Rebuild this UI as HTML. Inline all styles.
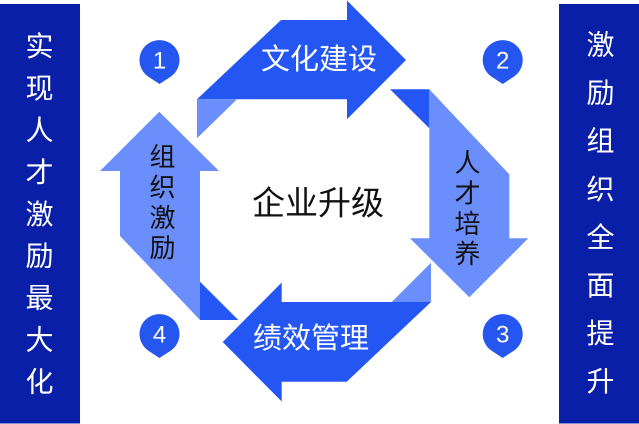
<!DOCTYPE html>
<html>
<head>
<meta charset="utf-8">
<style>
html,body{margin:0;padding:0;background:#fff;}
body{width:639px;height:424px;overflow:hidden;}
svg{display:block;}
text{font-family:"Liberation Sans","Noto Sans CJK SC",sans-serif;}
</style>
</head>
<body>
<svg width="639" height="424" viewBox="0 0 639 424" xmlns="http://www.w3.org/2000/svg">
  <rect x="0" y="0" width="639" height="424" fill="#ffffff"/>
  <!-- side panels -->
  <rect x="0" y="4" width="80" height="419.5" fill="#0a1fa7"/>
  <rect x="559" y="4" width="80" height="419.5" fill="#0a1fa7"/>

  <g fill="#ffffff" font-size="28" text-anchor="middle" dominant-baseline="central">
    <text x="39.5" y="46.7">实</text>
    <text x="39.5" y="88.6">现</text>
    <text x="39.5" y="130.5">人</text>
    <text x="39.5" y="172.4">才</text>
    <text x="39.5" y="214.3">激</text>
    <text x="39.5" y="256.2">励</text>
    <text x="39.5" y="298.1">最</text>
    <text x="39.5" y="340">大</text>
    <text x="39.5" y="381.9">化</text>

    <text x="600.5" y="45">激</text>
    <text x="600.5" y="93.1">励</text>
    <text x="600.5" y="141.2">组</text>
    <text x="600.5" y="189.3">织</text>
    <text x="600.5" y="237.4">全</text>
    <text x="600.5" y="285.5">面</text>
    <text x="600.5" y="333.6">提</text>
    <text x="600.5" y="381.7">升</text>
  </g>

  <!-- top arrow -->
  <polygon points="281,20 347,20 347,0.5 406,60 347,119.3 347,99.3 197,99.3" fill="#2456f4"/>
  <polygon points="197,99.3 237,99.3 197,138.3" fill="#6b8efd"/>

  <!-- right arrow -->
  <polygon points="390,89.3 429.3,89.3 429.3,128.3" fill="#2456f4"/>
  <polygon points="429.3,89.3 509.3,174.3 509.3,238.3 528.3,238.3 469.3,297.3 410,238.3 429.3,238.3" fill="#6b8efd"/>

  <!-- bottom arrow -->
  <polygon points="431,262.7 431,302 391.7,302" fill="#6b8efd"/>
  <polygon points="431,302 346.7,381.7 281.7,381.7 281.7,401.5 222.7,342 281.7,282.5 281.7,302" fill="#2456f4"/>

  <!-- left arrow -->
  <polygon points="200,281.7 200,320 238.3,320" fill="#2456f4"/>
  <polygon points="200,320 120,236 120,171 100,171 159.3,111.7 219,171 200,171" fill="#6b8efd"/>

  <!-- arrow labels -->
  <g text-anchor="middle" dominant-baseline="central">
    <text x="319" y="60" font-size="29" fill="#ffffff">文化建设</text>
    <text x="311" y="339" font-size="29" fill="#ffffff">绩效管理</text>
    <text x="318" y="203" font-size="33" fill="#111111">企业升级</text>
  </g>
  <g text-anchor="middle" dominant-baseline="central" font-size="26" fill="#111111">
    <text x="467.5" y="163">人</text>
    <text x="467.5" y="193.4">才</text>
    <text x="467.5" y="223.8">培</text>
    <text x="467.5" y="254.2">养</text>

    <text x="162.5" y="157">组</text>
    <text x="162.5" y="187.4">织</text>
    <text x="162.5" y="217.8">激</text>
    <text x="162.5" y="248.2">励</text>
  </g>

  <!-- pins -->
  <g fill="#2557f0">
    <path d="M159.5,84 L148.4,76.7 A20,20 0 1 1 170.6,76.7 Z"/>
    <path d="M502.7,84 L491.6,76.7 A20,20 0 1 1 513.8,76.7 Z"/>
    <path d="M502.7,358 L491.6,350.7 A20,20 0 1 1 513.8,350.7 Z"/>
    <path d="M159.5,358 L148.4,350.7 A20,20 0 1 1 170.6,350.7 Z"/>
  </g>
  <g fill="#ffffff" font-size="24" text-anchor="middle" dominant-baseline="central">
    <text x="159.5" y="61">1</text>
    <text x="502.7" y="61">2</text>
    <text x="502.7" y="335">3</text>
    <text x="159.5" y="335">4</text>
  </g>
</svg>
</body>
</html>
